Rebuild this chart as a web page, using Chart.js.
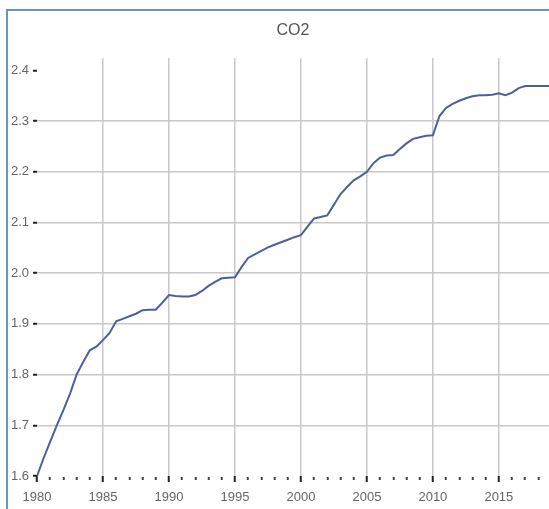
<!DOCTYPE html>
<html>
<head>
<meta charset="utf-8">
<script src="https://cdn.jsdelivr.net/npm/chart.js@4"></script>
<style>
  html, body { margin: 0; padding: 0; background: #fff; overflow: hidden; }
  #wrap { position: relative; width: 549px; height: 509px; }
  /* blue window frame on the left/top edge */
  #frame { position: absolute; left: 6px; top: 9px; width: 560px; height: 520px;
           border-left: 2px solid #6b93c9; border-top: 2px solid #6b93c9; }
  #myChart { position: absolute; left: 0; top: 0; }
</style>
</head>
<body>
<div id="wrap">
  <div id="frame"></div>
  <canvas id="myChart" width="549" height="509"></canvas>
</div>
<script>
// half-year readings of the CO2 series
const years = [
  1980.0, 1980.5, 1981.0, 1981.5, 1982.0, 1982.5, 1983.0, 1983.5, 1984.0, 1984.5,
  1985.0, 1985.5, 1986.0, 1986.5, 1987.0, 1987.5, 1988.0, 1988.5, 1989.0, 1989.5,
  1990.0, 1990.5, 1991.0, 1991.5, 1992.0, 1992.5, 1993.0, 1993.5, 1994.0, 1994.5,
  1995.0, 1995.5, 1996.0, 1996.5, 1997.0, 1997.5, 1998.0, 1998.5, 1999.0, 1999.5,
  2000.0, 2000.5, 2001.0, 2001.5, 2002.0, 2002.5, 2003.0, 2003.5, 2004.0, 2004.5,
  2005.0, 2005.5, 2006.0, 2006.5, 2007.0, 2007.5, 2008.0, 2008.5, 2009.0, 2009.5,
  2010.0, 2010.5, 2011.0, 2011.5, 2012.0, 2012.5, 2013.0, 2013.5, 2014.0, 2014.5,
  2015.0, 2015.5, 2016.0, 2016.5, 2017.0, 2017.5, 2018.0, 2018.5, 2019.0
];
const co2 = [
  1.600, 1.635, 1.668, 1.700, 1.730, 1.762, 1.800, 1.825, 1.848, 1.855,
  1.868, 1.882, 1.905, 1.910, 1.915, 1.920, 1.927, 1.928, 1.928, 1.942,
  1.957, 1.955, 1.954, 1.954, 1.957, 1.965, 1.975, 1.983, 1.990, 1.991,
  1.992, 2.012, 2.030, 2.037, 2.044, 2.051, 2.056, 2.061, 2.066, 2.071,
  2.075, 2.092, 2.108, 2.111, 2.114, 2.135, 2.156, 2.170, 2.183, 2.191,
  2.200, 2.217, 2.228, 2.232, 2.233, 2.245, 2.256, 2.265, 2.268, 2.271,
  2.272, 2.310, 2.326, 2.334, 2.340, 2.345, 2.349, 2.351, 2.351, 2.352,
  2.355, 2.351, 2.356, 2.365, 2.369, 2.369, 2.369, 2.369, 2.369
];
const yTicks = [1.6, 1.7, 1.8, 1.9, 2.0, 2.1, 2.2, 2.3, 2.4];
const xTickYears = [];
for (let y = 1980; y <= 2018; y++) xTickYears.push(y);

const gridGray = '#c8c8c8';
const labelGray = '#666';

const ctx = document.getElementById('myChart');
const myChart = new Chart(ctx, {
  type: 'line',
  data: {
    datasets: [{
      label: 'CO2',
      data: years.map((x, i) => ({ x: x, y: co2[i] })),
      borderColor: '#4d5f9e',
      borderWidth: 2,
      pointRadius: 0,
      tension: 0,
      fill: false
    }]
  },
  options: {
    responsive: false,
    animation: false,
    devicePixelRatio: 1,
    layout: { padding: 0 },
    plugins: {
      legend: { display: false },
      tooltip: { enabled: false },
      title: {
        display: true,
        text: 'CO2',
        fullSize: false,
        color: '#555',
        font: { family: 'Liberation Sans, Arial, sans-serif', size: 16, weight: 'normal' },
        padding: { top: 21, bottom: 18 }
      }
    },
    scales: {
      x: {
        type: 'linear',
        min: 1980,
        max: 2018.8,
        afterBuildTicks: (scale) => { scale.ticks = xTickYears.map(v => ({ value: v })); },
        afterFit: (scale) => { scale.height = 33; },
        border: { display: false },
        grid: {
          color: (c) => (c.tick && c.tick.value % 5 === 0 && c.tick.value !== 1980) ? gridGray : 'rgba(0,0,0,0)',
          lineWidth: 1.5,
          drawTicks: true,
          tickLength: 6,
          tickColor: (c) => (c.tick && c.tick.value % 5 === 0) ? '#222' : '#444',
          tickWidth: 2,
          tickBorderDash: (c) => (c.tick && c.tick.value % 5 === 0) ? [] : [0, 1, 3, 10]
        },
        ticks: {
          autoSkip: false,
          maxRotation: 0,
          padding: 8,
          color: labelGray,
          font: { family: 'Liberation Sans, Arial, sans-serif', size: 13 },
          callback: (v) => (v % 5 === 0 ? String(v) : '')
        }
      },
      y: {
        type: 'linear',
        min: 1.6,
        max: 2.424,
        afterBuildTicks: (scale) => { scale.ticks = yTicks.map(v => ({ value: v })); },
        afterFit: (scale) => { scale.width = 37; },
        border: { display: false },
        grid: {
          color: (c) => (c.tick && (c.tick.value === 1.6 || c.tick.value === 2.4)) ? 'rgba(0,0,0,0)' : gridGray,
          lineWidth: 1.5,
          drawTicks: true,
          tickLength: 4,
          tickColor: '#222',
          tickWidth: 2
        },
        ticks: {
          padding: 4,
          color: labelGray,
          font: { family: 'Liberation Sans, Arial, sans-serif', size: 13 },
          callback: (v) => v.toFixed(1)
        }
      }
    }
  }
});
</script>
</body>
</html>
